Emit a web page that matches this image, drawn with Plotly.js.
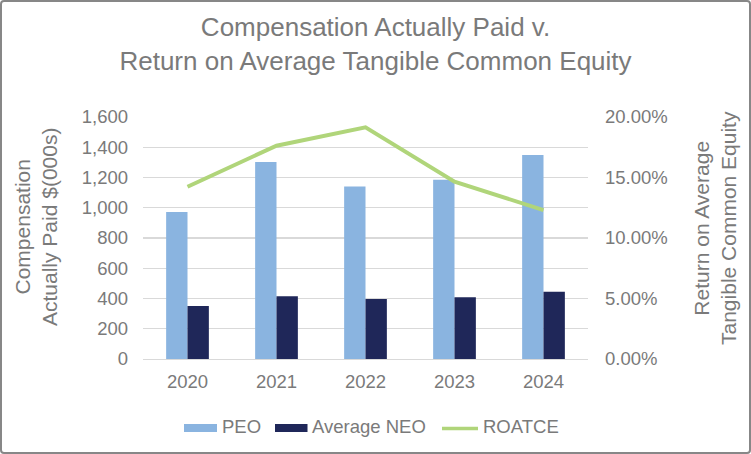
<!DOCTYPE html>
<html><head><meta charset="utf-8">
<script src="https://cdn.plot.ly/plotly-3.0.1.min.js"></script>
<style>
html,body{margin:0;padding:0;background:#fff;}
#wrap{position:relative;width:751px;height:454px;}
#chart{width:751px;height:454px;}
#frame{position:absolute;left:0;top:0;width:751px;height:454px;box-sizing:border-box;border:2px solid #878787;border-radius:4px;pointer-events:none;}
</style></head>
<body>
<div id="wrap"><div id="chart"></div><div id="frame"></div></div>
<script>
const years = ['2020','2021','2022','2023','2024'];
const peo = [972, 1302, 1140, 1185, 1349];
const avgNeo = [350, 415, 397, 408, 445];
const roatce = [0.1424, 0.1763, 0.1915, 0.1465, 0.1231];
const leftTicks = [0,200,400,600,800,1000,1200,1400,1600];
const rightTicks = [0,0.05,0.10,0.15,0.20];
const seriesNames = ['PEO','Average NEO','ROATCE'];
const colors = ['#8ab4e0','#1f2759','#b0d57a'];

const font = 'Liberation Sans, Arial, sans-serif';
const txt = '#7a7a7a';
const traces = [
  {type:'bar', name:seriesNames[0], x:years, y:peo, marker:{color:colors[0]}, hoverinfo:'skip'},
  {type:'bar', name:seriesNames[1], x:years, y:avgNeo, marker:{color:colors[1]}, hoverinfo:'skip'},
  {type:'scatter', mode:'lines', name:seriesNames[2], x:years, y:roatce, yaxis:'y2',
   line:{color:colors[2], width:4}, hoverinfo:'skip'}
];

// plot area: left 143, right 588, top 117, bottom 359
const L=143, W=445, B=359, H=242;
const px = v => (v - L) / W;
const py = v => (B - v) / H;

const shapes = [
  {type:'rect', xref:'paper', yref:'paper', x0:px(184), x1:px(217), y0:py(432), y1:py(424),
   fillcolor:colors[0], line:{width:0}},
  {type:'rect', xref:'paper', yref:'paper', x0:px(275), x1:px(307.5), y0:py(432), y1:py(424),
   fillcolor:colors[1], line:{width:0}},
  {type:'line', xref:'paper', yref:'paper', x0:px(442), x1:px(478), y0:py(428.5), y1:py(428.5),
   line:{color:colors[2], width:3.5}}
];
const legendAnn = [
  {x:px(219.5), name:seriesNames[0]},
  {x:px(309.5), name:seriesNames[1]},
  {x:px(481), name:seriesNames[2]}
].map(o => ({text:o.name, xref:'paper', yref:'paper', x:o.x, y:py(426.5), xanchor:'left',
  yanchor:'middle', showarrow:false, font:{size:18.5, color:txt, family:font}}));

const layout = {
  width:751, height:454,
  margin:{l:143, r:163, t:117, b:95},
  paper_bgcolor:'#fff', plot_bgcolor:'#fff',
  font:{family:font, color:txt, size:18.5},
  title:{text:'Compensation Actually Paid v.<br>Return on Average Tangible Common Equity',
    font:{family:font, size:26, color:txt}, x:0.5, xanchor:'center', y:0.92, yanchor:'middle'},
  barmode:'group', bargap:0.52, bargroupgap:0,
  xaxis:{type:'category', showgrid:false, showline:true, linecolor:'#d9d9d9', linewidth:1,
    ticks:'', tickfont:{size:18.5, color:txt}, ticklabelstandoff:6, fixedrange:true},
  yaxis:{range:[0,1600], tickvals:leftTicks, ticktext:leftTicks.map(v=>v.toLocaleString('en-US')),
    showgrid:true, gridcolor:'#d9d9d9', gridwidth:1.3, zeroline:false, showline:false, ticks:'',
    tickfont:{size:18.5, color:txt}, ticklabelstandoff:14, automargin:false},
  yaxis2:{range:[0,0.20], overlaying:'y', side:'right', tickvals:rightTicks,
    ticktext:rightTicks.map(v=>(v*100).toFixed(2)+'%'), showgrid:false, zeroline:false,
    showline:false, ticks:'', tickfont:{size:18.5, color:txt}, ticklabelstandoff:16, automargin:false},
  showlegend:false,
  shapes:shapes,
  annotations:[
    {text:'Compensation<br>Actually Paid $(000s)', textangle:-90, xref:'paper', yref:'paper',
     x:px(36), y:py(227), xanchor:'center', yanchor:'middle', showarrow:false,
     font:{size:21, color:txt, family:font}},
    {text:'Return on Average<br>Tangible Common Equity', textangle:-90, xref:'paper', yref:'paper',
     x:px(715), y:py(228), xanchor:'center', yanchor:'middle', showarrow:false,
     font:{size:21, color:txt, family:font}}
  ].concat(legendAnn)
};
Plotly.newPlot('chart', traces, layout, {displayModeBar:false, staticPlot:true});
</script>
</body></html>
